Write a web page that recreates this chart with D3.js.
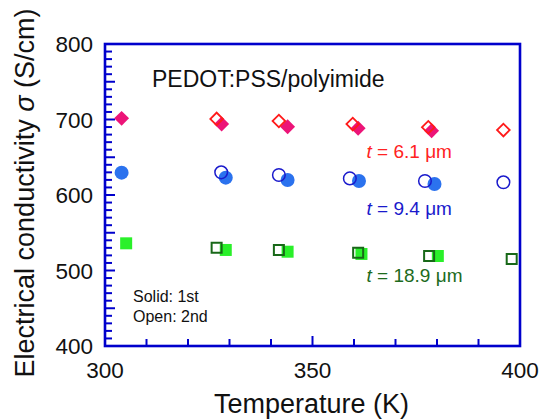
<!DOCTYPE html>
<html>
<head>
<meta charset="utf-8">
<script src="https://cdn.jsdelivr.net/npm/d3@7"></script>
<style>
  html, body { margin: 0; padding: 0; background: #fff; }
  svg { display: block; font-family: Arial, "Liberation Sans", Helvetica, sans-serif; }
</style>
</head>
<body>
<svg id="chart" width="540" height="419"></svg>
<script>
// Temperature (K) and conductivity (S/cm) for the three film thicknesses.
// "first" = 1st measurement (solid markers), "second" = 2nd measurement (open markers).
const t61First = [[304.0, 701.5], [328.1, 694.0], [344.0, 690.5], [361.0, 688.3], [378.7, 685.2]];
const t61Second = [[326.9, 700.7], [341.9, 698.0], [359.7, 694.0], [377.9, 689.7], [396.0, 686.0]];
const t94First = [[304.0, 629.6], [329.1, 623.0], [344.0, 619.9], [361.2, 618.5], [379.4, 614.6]];
const t94Second = [[328.0, 630.0], [341.9, 626.5], [359.0, 622.0], [377.1, 618.5], [396.0, 616.8]];
const t189First = [[305.1, 536.0], [329.1, 527.2], [344.0, 524.9], [361.8, 521.9], [380.2, 519.2]];
const t189Second = [[326.9, 530.2], [341.9, 527.2], [361.0, 523.6], [378.1, 519.2], [398.0, 515.2]];

const xDomain = [300, 400];
const yDomain = [400, 800];
const xTickLabels = [300, 350, 400];
const yTickLabels = [400, 500, 600, 700, 800];

const svg = d3.select("#chart");
const m = { left: 105, right: 520, top: 44, bottom: 346 };
const x = d3.scaleLinear().domain(xDomain).range([m.left, m.right]);
const y = d3.scaleLinear().domain(yDomain).range([m.bottom, m.top]);
const axisBlue = "#0000cc";

// Inward ticks: minor every 10, longer every 50
const xMinor = d3.range(310, 400, 10);
const yMinor = d3.range(410, 800, 10);
const gTicks = svg.append("g").attr("stroke", axisBlue).attr("stroke-width", 2);
gTicks.selectAll("line.xt").data(xMinor).join("line")
  .attr("x1", d => x(d)).attr("x2", d => x(d))
  .attr("y1", m.bottom).attr("y2", d => m.bottom - (d % 50 === 0 ? 10 : 7));
gTicks.selectAll("line.yt").data(yMinor).join("line")
  .attr("y1", d => y(d)).attr("y2", d => y(d))
  .attr("x1", m.left).attr("x2", d => m.left + (d % 50 === 0 ? 10 : 7));

// Frame
svg.append("rect")
  .attr("x", m.left).attr("y", m.top)
  .attr("width", m.right - m.left).attr("height", m.bottom - m.top)
  .attr("fill", "none").attr("stroke", axisBlue).attr("stroke-width", 2.6);

// Tick labels
svg.append("g").selectAll("text").data(xTickLabels).join("text")
  .attr("x", d => x(d)).attr("y", 378)
  .attr("text-anchor", "middle").attr("font-size", 22.5).attr("fill", "#111")
  .text(d => d);
svg.append("g").selectAll("text").data(yTickLabels).join("text")
  .attr("x", 93).attr("y", d => y(d) + 8)
  .attr("text-anchor", "end").attr("font-size", 22.5).attr("fill", "#111")
  .text(d => d);

// Axis titles
svg.append("text")
  .attr("x", 311.5).attr("y", 413)
  .attr("text-anchor", "middle").attr("font-size", 27).attr("fill", "#111")
  .text("Temperature (K)");
const yt = svg.append("text")
  .attr("transform", "translate(34,193) rotate(-90)")
  .attr("text-anchor", "middle").attr("font-size", 27).attr("fill", "#111");
yt.append("tspan").text("Electrical conductivity ");
yt.append("tspan").attr("font-style", "italic").text("σ");
yt.append("tspan").text(" (S/cm)");

// Markers
const plot = svg.append("g");
function drawSymbol(data, type, size, fill, stroke, sw, rot) {
  const path = d3.symbol().type(type).size(size)();
  plot.append("g").selectAll("path").data(data).join("path")
    .attr("d", path)
    .attr("transform", d => `translate(${x(d[0])},${y(d[1])})` + (rot ? ` rotate(${rot})` : ""))
    .attr("fill", fill).attr("stroke", stroke).attr("stroke-width", sw);
}
// Solid markers (1st run) first, open markers (2nd run) on top
drawSymbol(t61First, d3.symbolSquare, 112, "#ec1478", "none", 0, 45);
drawSymbol(t94First, d3.symbolCircle, Math.PI * 7 * 7, "#2b72ee", "none", 0);
drawSymbol(t189First, d3.symbolSquare, 144, "#2af02a", "none", 0);
drawSymbol(t61Second, d3.symbolSquare, 80, "none", "#ff1a1a", 1.8, 45);
drawSymbol(t94Second, d3.symbolCircle, Math.PI * 6.3 * 6.3, "none", "#1a1acc", 1.5);
drawSymbol(t189Second, d3.symbolSquare, 100, "none", "#186818", 2);

// Annotations
svg.append("text").attr("x", 152).attr("y", 87)
  .attr("font-size", 23).attr("fill", "#111").text("PEDOT:PSS/polyimide");

const labels = [
  { t: "6.1", color: "#ff2222", y: 158 },
  { t: "9.4", color: "#1a1acc", y: 215 },
  { t: "18.9", color: "#1d6b1d", y: 281.5 }
];
labels.forEach(l => {
  const tx = svg.append("text").attr("x", 366.5).attr("y", l.y)
    .attr("font-size", 19).attr("fill", l.color);
  tx.append("tspan").attr("font-style", "italic").text("t");
  tx.append("tspan").text(` = ${l.t} μm`);
});

svg.append("text").attr("x", 133).attr("y", 301.5)
  .attr("font-size", 16).attr("fill", "#111").text("Solid: 1st");
svg.append("text").attr("x", 133).attr("y", 321.5)
  .attr("font-size", 16).attr("fill", "#111").text("Open: 2nd");
</script>
</body>
</html>
